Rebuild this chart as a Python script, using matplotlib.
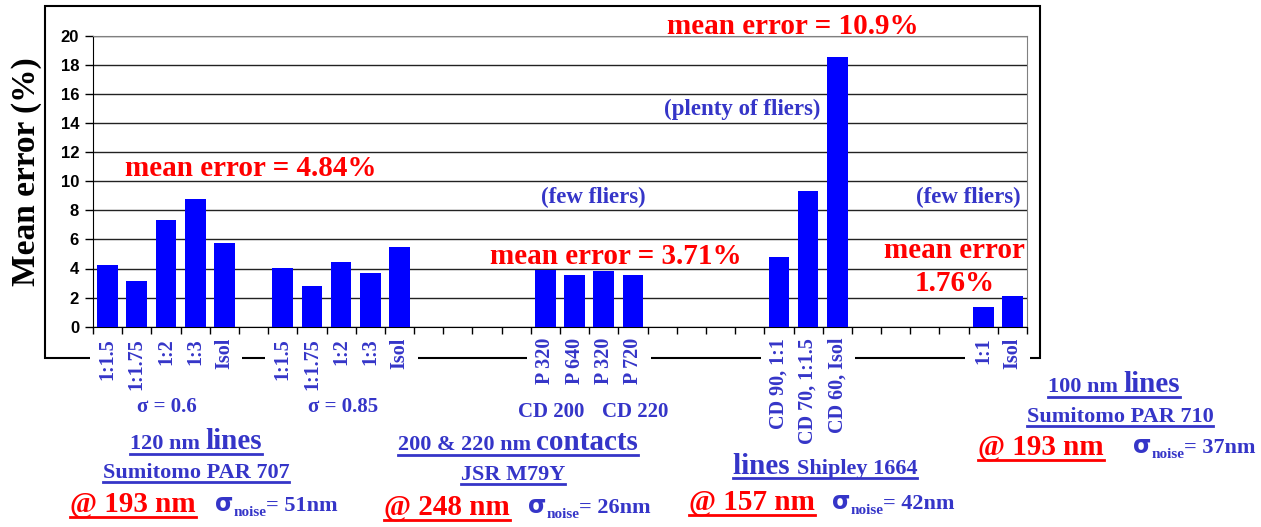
import matplotlib
matplotlib.use("Agg")
import matplotlib.pyplot as plt
from matplotlib.lines import Line2D
from matplotlib.patches import Rectangle
import numpy as np

# categories (empty strings are the gaps between the groups)
labels = ['1:1.5', '1:1.75', '1:2', '1:3', 'Isol', '',
          '1:1.5', '1:1.75', '1:2', '1:3', 'Isol', '', '', '', '',
          'P 320', 'P 640', 'P 320', 'P 720', '', '', '', '',
          'CD 90, 1:1', 'CD 70, 1:1.5', 'CD 60, Isol', '', '', '', '',
          '1:1', 'Isol']
nan = np.nan
values = [4.24, 3.14, 7.33, 8.77, 5.75, nan,
          4.03, 2.79, 4.44, 3.69, 5.48, nan, nan, nan, nan,
          3.89, 3.55, 3.83, 3.55, nan, nan, nan, nan,
          4.79, 9.32, 18.53, nan, nan, nan, nan,
          1.36, 2.12]
yticks = list(range(0, 21, 2))

BLUE = '#3535C8'
RED = '#FF0000'
SERIF = 'Liberation Serif'

W, H = 1261, 527
fig = plt.figure(figsize=(W / 100, H / 100), dpi=100)
fig.patch.set_facecolor('white')

# outer chart frame
fig.add_artist(Rectangle((45 / W, 1 - 358 / H), 995 / W, 352 / H, transform=fig.transFigure,
                         fill=False, edgecolor='black', lw=1.5, zorder=-1))

ax = fig.add_axes([93 / W, 1 - 326.7 / H, 934 / W, 291 / H])
x = np.arange(len(labels))
ax.bar(x, values, width=0.71, color='#0000FF', zorder=3)
ax.set_xlim(-0.5, len(labels) - 0.5)
ax.set_ylim(0, 20)
ax.set_yticks(yticks)
ax.yaxis.grid(True, color='#222222', lw=1)
ax.set_axisbelow(True)

ax.set_xticks(x)
ax.set_xticklabels(labels, rotation=90, fontsize=14.5, color=BLUE, family=SERIF,
                   weight='bold', va='top', ha='center')
ax.tick_params(axis='x', which='major', length=0, pad=8)
ax.set_xticks(np.arange(len(labels) + 1) - 0.5, minor=True)
ax.tick_params(axis='x', which='minor', length=5, width=1, color='black')
for t in ax.get_xticklabels():
    t.set_bbox(dict(facecolor='white', edgecolor='none', boxstyle='square,pad=0.4'))
ax.tick_params(axis='y', length=6, width=1, labelsize=12, pad=4)
for t in ax.get_yticklabels():
    t.set_fontweight('bold')
    t.set_family('Liberation Sans')
ax.spines['left'].set_color('black')
ax.spines['bottom'].set_color('black')
ax.spines['top'].set_color('#808080')
ax.spines['right'].set_color('#808080')

fig.text(27 / W, 1 - 172 / H, 'Mean error (%)', rotation=90, fontsize=24, family=SERIF,
         weight='bold', ha='center', va='center')

r = fig.canvas.get_renderer()


def put(pieces, px, py, ha='left', under=None, ucolor=BLUE):
    # pieces: (text, size, color, dy, family); py is the baseline in pixels from the top
    made = []
    for txt, size, color, dy, fam in pieces:
        t = fig.text(0, 0, txt, fontsize=size, color=color, family=fam, weight='bold',
                     va='baseline', ha='left')
        made.append((t, dy))
    widths = [t.get_window_extent(r).width for t, _ in made]
    total = sum(widths)
    x0 = px - total / 2 if ha == 'center' else px
    cur = x0
    for (t, dy), w in zip(made, widths):
        t.set_position((cur / W, 1 - (py + dy) / H))
        cur += w
    if under is not None:
        fig.add_artist(Line2D([x0 / W, (x0 + total) / W], [1 - (py + under) / H] * 2,
                              color=ucolor, lw=2, transform=fig.transFigure))


def plain(txt, size, color, px, py, ha='center', under=None):
    put([(txt, size, color, 0, SERIF)], px, py, ha=ha, under=under, ucolor=color)


def sigma(num, px, py):
    put([('σ', 17, BLUE, 0, 'DejaVu Sans'), ('noise', 11, BLUE, 5, SERIF),
         ('= ' + num, 16, BLUE, 0, SERIF)], px, py)


# annotations inside the plot
plain('mean error = 4.84%', 21, RED, 251, 176)
plain('(few fliers)', 16.5, BLUE, 593, 203)
plain('mean error = 3.71%', 21, RED, 616, 264)
plain('mean error = 10.9%', 21, RED, 793, 34)
plain('(plenty of fliers)', 16.5, BLUE, 742, 115)
plain('(few fliers)', 16.5, BLUE, 968, 203)
plain('mean error', 21, RED, 954, 258)
plain('1.76%', 21, RED, 955, 291)

# group captions under the axis
plain('σ = 0.6', 15, BLUE, 167, 412)
plain('σ = 0.85', 15, BLUE, 343, 412)
plain('CD 200', 15, BLUE, 551, 417)
plain('CD 220', 15, BLUE, 635, 417)

put([('120 nm ', 16, BLUE, 0, SERIF), ('lines', 21, BLUE, 0, SERIF)], 196, 449,
    ha='center', under=5)
plain('Sumitomo PAR 707', 16, BLUE, 196, 478, under=4)
plain('@ 193 nm', 21, RED, 70, 512, ha='left', under=5)
sigma('51nm', 215, 511)

put([('200 & 220 nm ', 16, BLUE, 0, SERIF), ('contacts', 21, BLUE, 0, SERIF)], 518, 450,
    ha='center', under=5)
plain('JSR M79Y', 16, BLUE, 513, 480, under=4)
plain('@ 248 nm', 21, RED, 384, 515, ha='left', under=5)
sigma('26nm', 528, 513)

put([('lines ', 21, BLUE, 0, SERIF), ('Shipley 1664', 16, BLUE, 0, SERIF)], 825, 474,
    ha='center', under=4)
plain('@ 157 nm', 21, RED, 689, 510, ha='left', under=5)
sigma('42nm', 832, 509)

put([('100 nm ', 16, BLUE, 0, SERIF), ('lines', 21, BLUE, 0, SERIF)], 1114, 392,
    ha='center', under=5)
plain('Sumitomo PAR 710', 16, BLUE, 1120, 422, under=4)
plain('@ 193 nm', 21, RED, 978, 455, ha='left', under=5)
sigma('37nm', 1133, 453)

fig.savefig('out.png', dpi=100, facecolor='white')
